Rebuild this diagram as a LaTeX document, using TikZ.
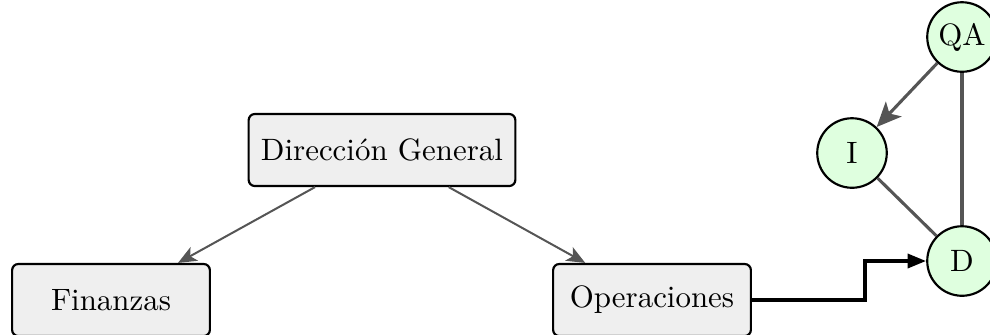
\documentclass[tikz,border=0pt]{standalone}
\usetikzlibrary{arrows.meta}
\definecolor{boxfill}{HTML}{EFEFEF}
\definecolor{nodefill}{HTML}{DFFFDF}
\definecolor{edgegray}{HTML}{555555}
\begin{document}
\begin{tikzpicture}[x=0.3236pt,y=-0.3236pt,
  orgbox/.style={draw=black,line width=0.7pt,fill=boxfill,rounded corners=2pt,minimum width=64pt,minimum height=23.3pt,inner xsep=4pt},
  teamnode/.style={circle,draw=black,line width=0.7pt,fill=nodefill,minimum size=22.5pt,inner sep=0pt},
  orgedge/.style={draw=edgegray,line width=0.65pt,-{Stealth[length=6pt,width=5pt,inset=1.5pt]}},
  teamedge/.style={draw=edgegray,line width=1pt},
  flowedge/.style={draw=black,line width=1.2pt,-{Triangle[length=6pt,width=4.5pt]}}]
\useasboundingbox (0,0) rectangle (990,334);
\clip (0,0) rectangle (990,334);
\node[orgbox] (dg) at (382,150) {Dirección General};
\node[orgbox] (fin) at (111,300) {Finanzas};
\node[orgbox] (ope) at (652,300) {Operaciones};
\node[teamnode] (qa) at (962,37) {QA};
\node[teamnode] (i) at (852,153) {I};
\node[teamnode] (d) at (962,261) {D};
\coordinate (bend) at (865,300);
\draw[orgedge] (dg) -- (fin);
\draw[orgedge] (dg) -- (ope);
\draw[teamedge,-{Stealth[length=8pt,width=7pt,inset=2pt]}] (qa) -- (i);
\draw[teamedge] (qa) -- (d);
\draw[teamedge] (i) -- (d);
\draw[flowedge] (ope.east) -- (bend) |- (d.west);
\end{tikzpicture}
\end{document}
